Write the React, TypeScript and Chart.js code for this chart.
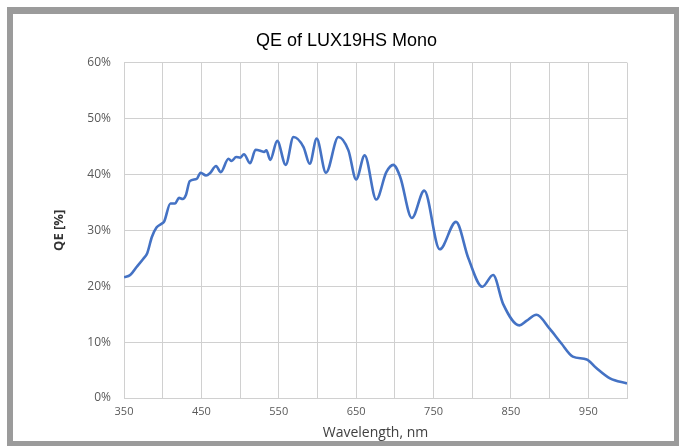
import React, { useEffect, useRef } from "react";
import { Chart, registerables } from "chart.js";

Chart.register(...registerables);

const wavelengths = [
  350, 358, 366, 375, 380, 386, 392, 399, 402, 410, 416, 421, 426, 430, 435, 444,
  449, 456, 461, 469, 475, 485, 489, 495, 500, 505, 513, 520, 527, 531, 534, 539,
  548, 559, 569, 582, 590, 599, 611, 627, 640, 650, 661, 676, 689, 698, 707, 722,
  738, 758, 779, 795, 813, 827, 840, 861, 870, 883, 900, 915, 930, 948, 960, 978, 1000,
];
const qeValues = [
  21.6, 22.0, 23.4, 24.9, 25.9, 28.8, 30.5, 31.2, 31.6, 34.8, 34.8, 35.8, 35.6, 36.3, 38.8, 39.2,
  40.3, 39.8, 40.2, 41.5, 40.4, 42.8, 42.4, 43.1, 43.0, 43.6, 42.0, 44.4, 44.2, 44.0, 44.3, 42.6,
  46.0, 41.7, 46.7, 44.9, 41.9, 46.4, 40.3, 46.7, 44.3, 39.1, 43.4, 35.5, 40.4, 41.7, 39.5, 32.2,
  37.1, 26.6, 31.5, 25.0, 19.9, 22.0, 16.8, 13.0, 13.8, 14.9, 12.4, 9.8, 7.4, 6.9, 5.4, 3.5, 2.6,
];
const xTickLabels = ["350", "450", "550", "650", "750", "850", "950"];
const yTickLabels = ["0%", "10%", "20%", "30%", "40%", "50%", "60%"];

const chartTitle = "QE of LUX19HS Mono";
const xTitle = "Wavelength, nm";
const yTitle = "QE [%]";

export default function App() {
  const canvasRef = useRef<HTMLCanvasElement | null>(null);

  useEffect(() => {
    if (!canvasRef.current) return;
    const points = wavelengths.map((w, i) => ({ x: w, y: qeValues[i] }));
    const gridColor = "#d0d0d0";
    const chart = new Chart(canvasRef.current, {
      type: "line",
      data: {
        datasets: [
          {
            label: "QE",
            data: points,
            borderColor: "#4472c4",
            borderWidth: 2.6,
            pointRadius: 0,
            fill: false,
            cubicInterpolationMode: "monotone",
          },
        ],
      },
      options: {
        animation: false,
        responsive: true,
        maintainAspectRatio: false,
        layout: { padding: { left: 6, right: 0, top: 0, bottom: 0 } },
        plugins: {
          legend: { display: false },
          tooltip: { enabled: false },
          title: {
            display: true,
            text: chartTitle,
            color: "#000000",
            font: { family: "'Liberation Sans', Arial, sans-serif", size: 18, weight: "normal" },
            padding: { top: 16, bottom: 11 },
          },
        },
        scales: {
          x: {
            type: "linear",
            min: 350,
            max: 1000,
            afterFit: (scale: any) => {
              scale.height = 43;
            },
            ticks: {
              stepSize: 50,
              autoSkip: false,
              maxRotation: 0,
              padding: 7,
              color: "#595959",
              font: { family: "'Open Sans', sans-serif", size: 11 },
              callback: (v: any) => {
                const s = String(v);
                return xTickLabels.includes(s) ? s : "";
              },
            },
            grid: { color: gridColor, lineWidth: 1, drawTicks: false },
            border: { color: gridColor },
            title: {
              display: true,
              text: xTitle,
              color: "#404040",
              font: { family: "'Open Sans', sans-serif", size: 14 },
              padding: { top: 2, bottom: 0 },
            },
          },
          y: {
            min: 0,
            max: 60,
            afterFit: (scale: any) => {
              scale.width = 105;
            },
            ticks: {
              stepSize: 10,
              padding: 13,
              color: "#595959",
              font: { family: "'Open Sans', sans-serif", size: 12 },
              callback: (v: any) => yTickLabels[Math.round(Number(v) / 10)] ?? "",
            },
            grid: { color: gridColor, lineWidth: 1, drawTicks: false },
            border: { color: gridColor },
            title: {
              display: true,
              text: yTitle,
              color: "#333333",
              font: { family: "'Open Sans', sans-serif", size: 13, weight: "bold" },
              padding: { top: 32, bottom: 0 },
            },
          },
          spacer: {
            type: "linear",
            position: "right",
            display: true,
            afterFit: (scale: any) => {
              scale.width = 47;
            },
            ticks: { display: false },
            grid: { display: false, drawTicks: false },
            border: { display: false },
          },
        },
      },
    });
    return () => chart.destroy();
  }, []);

  return (
    <div
      style={{
        position: "fixed",
        left: 7,
        top: 7,
        width: 672,
        height: 439,
        boxSizing: "border-box",
        borderStyle: "solid",
        borderColor: "#9b9b9b",
        borderWidth: "7px 5px 5px 6px",
        background: "#ffffff",
      }}
    >
      <div style={{ position: "relative", width: 661, height: 427 }}>
        <canvas ref={canvasRef} />
      </div>
    </div>
  );
}
